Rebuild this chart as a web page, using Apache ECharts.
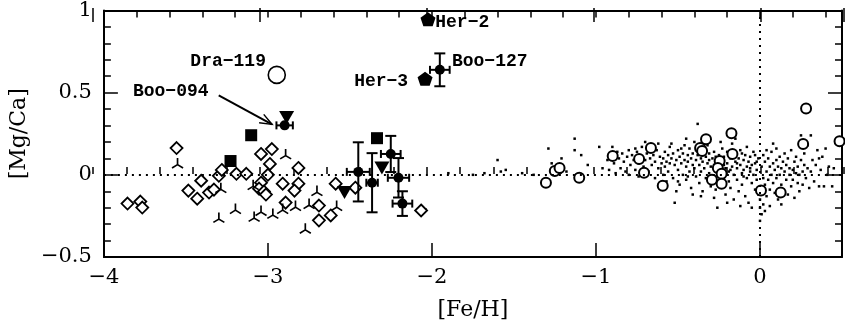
<!DOCTYPE html>
<html>
<head>
<meta charset="utf-8">
<script src="https://cdn.jsdelivr.net/npm/echarts@6/dist/echarts.min.js"></script>
<style>
  html, body { margin: 0; padding: 0; background: #fff; }
  #chart { width: 845px; height: 327px; }
</style>
</head>
<body>
<div id="chart"></div>
<script>
// [Fe/H], [Mg/Ca] values
const fieldStars = [
  [-2.04,-0.21],[-1.9,0.01],[-1.75,0.0],[-1.68,0.01],[-1.6,0.09],[-1.58,0.02],[-1.55,0.03],[-1.45,0.01],
  [-1.38,0.0],[-1.29,0.16],[-1.27,0.07],[-1.21,0.1],[-1.18,0.02],[-1.13,0.22],[-1.13,0.15],[-1.09,0.12],
  [-1.05,0.06],[-0.98,0.17],[-0.96,0.04],[-0.92,0.03],[-0.9,0.17],
  [-0.93,0.09],[-0.91,0.12],[-0.89,0.07],[-0.87,0.14],[-0.86,0.1],[-0.85,0.04],[-0.84,0.13],[-0.83,0.08],
  [-0.81,0.11],[-0.8,0.15],[-0.79,0.06],[-0.78,0.12],[-0.77,0.09],[-0.76,0.03],[-0.75,0.14],[-0.74,0.07],
  [-0.73,0.11],[-0.72,0.17],[-0.71,0.05],[-0.7,0.09],[-0.69,0.13],[-0.68,0.02],[-0.67,0.1],[-0.66,0.06],
  [-0.65,0.12],[-0.64,0.08],[-0.63,0.15],[-0.62,0.04],[-0.61,0.11],[-0.6,0.07],[-0.88,0.01],[-0.82,0.02],
  [-0.74,-0.01],[-0.7,0.2],[-0.66,0.18],[-0.64,-0.02],[-0.62,0.19],[-0.76,0.16],[-0.9,0.1],[-0.8,0.0],
  [-0.59,0.1],[-0.58,0.05],[-0.58,0.14],[-0.57,0.08],[-0.56,0.12],[-0.56,0.02],[-0.55,0.17],[-0.55,0.07],
  [-0.54,0.1],[-0.53,-0.02],[-0.53,0.13],[-0.52,0.06],[-0.52,-0.17],[-0.51,0.09],[-0.5,0.15],[-0.5,0.03],
  [-0.49,0.11],[-0.49,-0.06],[-0.48,0.07],[-0.47,0.13],[-0.47,0.0],[-0.46,0.09],[-0.46,0.18],[-0.45,0.05],
  [-0.45,-0.03],[-0.44,0.12],[-0.44,0.08],[-0.43,0.02],[-0.43,0.16],[-0.42,0.1],[-0.42,-0.08],[-0.41,0.06],
  [-0.41,0.13],[-0.4,0.04],[-0.4,0.2],[-0.39,0.09],[-0.39,-0.01],[-0.38,0.31],[-0.38,0.12],[-0.37,0.06],
  [-0.37,-0.05],[-0.36,0.1],[-0.36,0.02],[-0.35,0.08],[-0.35,-0.1],[-0.34,0.15],[-0.34,0.04],[-0.33,0.11],
  [-0.33,-0.02],[-0.32,0.07],[-0.32,0.18],[-0.31,0.01],[-0.31,0.13],[-0.3,0.05],[-0.3,-0.07],[-0.57,-0.04],
  [-0.54,0.19],[-0.51,-0.1],[-0.48,0.16],[-0.45,0.22],[-0.41,-0.12],[-0.38,0.17],[-0.36,-0.13],[-0.33,0.21],
  [-0.59,0.0],[-0.5,-0.04],[-0.44,-0.01],[-0.39,0.15],[-0.35,0.12],[-0.31,0.09],
  [-0.29,0.1],[-0.29,-0.04],[-0.28,0.06],[-0.28,0.14],[-0.27,0.02],[-0.27,-0.09],[-0.26,0.09],[-0.26,-0.2],
  [-0.25,0.12],[-0.25,0.0],[-0.24,0.05],[-0.24,-0.06],[-0.23,0.16],[-0.23,0.08],[-0.22,-0.02],[-0.22,0.11],
  [-0.21,0.04],[-0.21,-0.12],[-0.2,0.07],[-0.2,0.14],[-0.19,-0.04],[-0.19,0.02],[-0.18,0.1],[-0.18,-0.08],
  [-0.17,0.05],[-0.17,0.19],[-0.16,0.0],[-0.16,-0.15],[-0.15,0.08],[-0.15,0.12],[-0.14,-0.03],[-0.14,0.04],
  [-0.13,0.1],[-0.13,-0.1],[-0.12,0.06],[-0.12,0.15],[-0.11,0.01],[-0.11,-0.06],[-0.1,0.09],[-0.1,0.03],
  [-0.09,-0.13],[-0.09,0.12],[-0.08,0.05],[-0.08,-0.02],[-0.07,0.08],[-0.07,-0.17],[-0.06,0.02],[-0.06,0.11],
  [-0.05,-0.05],[-0.05,0.06],[-0.04,0.0],[-0.04,0.14],[-0.03,0.07],[-0.03,-0.09],[-0.02,0.03],[-0.02,-0.03],
  [-0.01,0.1],[-0.01,-0.12],[-0.28,-0.14],[-0.24,0.2],[-0.2,-0.17],[-0.15,0.22],[-0.12,-0.19],[-0.08,0.17],
  [-0.05,-0.2],[-0.26,0.03],[-0.22,0.06],[-0.18,0.03],[-0.14,0.07],[-0.1,-0.01],[-0.06,0.04],[-0.02,0.08],
  [-0.27,0.11],[-0.19,0.13],[-0.11,0.13],[-0.03,0.12],
  [0.0,-0.15],[0.0,-0.2],[0.01,-0.24],[0.0,-0.28],[0.01,-0.1],[0.01,0.05],[0.02,-0.02],[0.02,0.12],
  [0.02,-0.18],[0.03,0.08],[0.03,-0.06],[0.04,0.02],[0.04,-0.13],[0.05,0.1],[0.05,-0.03],[0.06,0.05],
  [0.06,-0.09],[0.07,0.0],[0.07,0.14],[0.08,-0.05],[0.08,0.07],[0.09,0.03],[0.09,-0.11],[0.1,0.09],
  [0.1,-0.02],[0.11,0.05],[0.11,-0.15],[0.12,0.0],[0.12,0.11],[0.13,-0.06],[0.13,0.04],[0.14,0.08],
  [0.14,-0.09],[0.15,0.02],[0.15,0.13],[0.16,-0.03],[0.16,0.06],[0.17,-0.12],[0.17,0.1],[0.18,0.0],
  [0.18,0.04],[0.19,-0.07],[0.19,0.15],[0.2,0.03],[0.2,-0.03],[0.21,0.08],[0.21,-0.14],[0.22,0.01],
  [0.22,0.11],[0.23,-0.05],[0.23,0.05],[0.24,0.0],[0.24,-0.1],[0.25,0.09],[0.25,0.24],[0.26,0.02],
  [0.26,-0.06],[0.27,0.06],[0.27,0.13],[0.28,-0.02],[0.29,0.04],[0.29,0.18],[0.3,-0.08],[0.03,-0.22],
  [0.06,-0.19],[0.1,0.16],[0.13,-0.18],[0.08,0.19],[0.04,0.15],[0.12,-0.13],
  [0.31,0.02],[0.32,0.09],[0.33,-0.04],[0.34,0.06],[0.35,0.15],[0.36,-0.07],[0.37,0.03],[0.38,0.11],
  [0.39,-0.07],[0.4,0.16],[0.41,0.0],[0.42,0.05],[0.44,-0.07],[0.45,0.04],[0.31,0.24],[0.36,0.1]
];

const openCircles = [
  [-1.305,-0.048],[-1.251,0.024],[-1.222,0.042],[-1.102,-0.018],[-0.898,0.114],[-0.737,0.096],
  [-0.707,0.012],[-0.665,0.163],[-0.593,-0.066],[-0.365,0.163],[-0.353,0.145],[-0.329,0.217],
  [-0.293,-0.03],[-0.246,0.084],[-0.257,0.042],[-0.234,0.006],[-0.234,-0.054],[-0.174,0.253],
  [-0.168,0.127],[0.006,-0.096],[0.126,-0.108],[0.263,0.187],[0.281,0.404],[0.485,0.205]
];

const diamonds = [
  [-3.557,0.163],[-3.856,-0.175],[-3.778,-0.163],[-3.766,-0.199],[-3.485,-0.096],[-3.431,-0.145],
  [-3.407,-0.036],[-3.359,-0.108],[-3.329,-0.09],[-3.299,-0.006],[-3.281,0.03],[-3.192,0.006],
  [-3.132,0.006],[-3.042,0.127],[-2.976,0.157],[-2.988,0.066],[-3.0,0.0],[-3.042,-0.048],
  [-3.054,-0.084],[-3.024,-0.102],[-3.012,-0.12],[-2.91,-0.054],[-2.892,-0.169],[-2.814,0.042],
  [-2.814,-0.054],[-2.838,-0.096],[-2.689,-0.187],[-2.689,-0.277],[-2.617,-0.247],[-2.587,-0.054],
  [-2.467,-0.078],[-2.066,-0.217]
];

const triStars = [
  [-3.551,0.072],[-3.299,-0.259],[-3.198,-0.205],[-3.084,-0.253],[-3.042,-0.217],[-2.97,-0.235],
  [-2.91,-0.205],[-3.09,-0.06],[-3.287,-0.078],[-2.892,0.127],[-2.701,-0.096],[-2.749,-0.175],
  [-2.832,-0.187],[-2.581,-0.187],[-2.772,-0.325]
];

const squares = [[-3.102,0.241],[-3.228,0.084],[-2.335,0.223]];
const downTriangles = [[-2.886,0.349],[-2.305,0.042],[-2.533,-0.108]];

// filled circles with error bars: [Fe/H], [Mg/Ca], err[Fe/H], err[Mg/Ca]
const errFeH = [-2.898, -2.449, -2.365, -2.251, -2.204, -2.18, -1.952];
const errMgCa = [0.301, 0.018, -0.048, 0.127, -0.018, -0.175, 0.639];
const errX = [0.05, 0.07, 0.035, 0.06, 0.065, 0.06, 0.06];
const errY = [0, 0.18, 0.18, 0.11, 0.12, 0.075, 0.1];

const herStars = [[-2.024, 0.946], [-2.042, 0.584]];
const draStar = [[-2.946, 0.608]];

const labelNames = ['Her−2', 'Boo−127', 'Her−3', 'Dra−119', 'Boo−094'];

// ---- layout (not data) ----
const labelAnchors = [
  { at: [-1.98, 0.93], align: 'left' },
  { at: [-1.878, 0.69], align: 'left' },
  { at: [-2.145, 0.566], align: 'right' },
  { at: [-3.012, 0.69], align: 'right' },
  { at: [-3.362, 0.506], align: 'right' }
];
const arrowFrom = [-3.3, 0.484];
const arrowTo = [-2.975, 0.307];

const AXIS_FONT = 'DejaVu Serif';
const LABEL_FONT = 'Liberation Mono';
const pentagon = 'path://M0,-1 L0.951,-0.309 L0.588,0.809 L-0.588,0.809 L-0.951,-0.309 Z';
const triPath = 'path://M0,-1 L0,0 L-0.866,0.5 M0,0 L0.866,0.5';

const gridBox = { left: 93, right: 1, top: 8, bottom: 70 };
const fmtX = v => (Math.abs(v - Math.round(v)) < 1e-9 ? String(Math.round(v)) : '').replace('-', '\u2212');
const fmtY = v => String(v).replace('-', '\u2212');

function xAx(grid, pos, interval, len, extra) {
  return Object.assign({
    type: 'value', gridIndex: grid, position: pos, min: -4, max: 0.5, interval: interval,
    axisLine: { show: true, onZero: false, lineStyle: { color: '#000', width: 2 } },
    axisTick: { show: true, inside: true, length: len, lineStyle: { color: '#000', width: 1.5 } },
    axisLabel: { show: false },
    splitLine: { show: false }
  }, extra || {});
}

function yAx(grid, pos, extra) {
  return Object.assign({
    type: 'value', gridIndex: grid, position: pos, min: -0.5, max: 1, interval: 0.5,
    axisLine: { show: true, onZero: false, lineStyle: { color: '#000', width: 2 } },
    axisTick: { show: true, inside: true, length: 14, lineStyle: { color: '#000', width: 1.5 } },
    minorTick: { show: true, splitNumber: 5, length: 7, lineStyle: { color: '#000', width: 1.5 } },
    axisLabel: { show: false },
    splitLine: { show: false }
  }, extra || {});
}

function renderErr(params, api) {
  const x = api.value(0), y = api.value(1), ex = api.value(2), ey = api.value(3);
  const c = api.coord([x, y]);
  const st = { stroke: '#000', lineWidth: 2 };
  const kids = [];
  const line = (x1, y1, x2, y2) => kids.push({ type: 'line', shape: { x1, y1, x2, y2 }, style: st });
  if (ey > 0) {
    const t = api.coord([x, y + ey])[1], b = api.coord([x, y - ey])[1];
    line(c[0], t, c[0], b);
    line(c[0] - 5.5, t, c[0] + 5.5, t);
    line(c[0] - 5.5, b, c[0] + 5.5, b);
  }
  if (ex > 0) {
    const l = api.coord([x - ex, y])[0], r = api.coord([x + ex, y])[0];
    line(l, c[1], r, c[1]);
    line(l, c[1] - 4, l, c[1] + 4);
    line(r, c[1] - 4, r, c[1] + 4);
  }
  return { type: 'group', children: kids };
}

function renderNotes(params, api) {
  const i = params.dataIndex;
  const a = labelAnchors[i];
  const p = api.coord(a.at);
  const kids = [{
    type: 'text', x: p[0], y: p[1],
    style: {
      text: labelNames[i], fill: '#000', font: 'bold 18px "' + LABEL_FONT + '"',
      align: a.align, verticalAlign: 'middle'
    }
  }];
  if (i === 4) {
    const s = api.coord(arrowFrom), e = api.coord(arrowTo);
    const ang = Math.atan2(e[1] - s[1], e[0] - s[0]);
    const h = 13, w = 0.38;
    kids.push({ type: 'line', shape: { x1: s[0], y1: s[1], x2: e[0], y2: e[1] }, style: { stroke: '#000', lineWidth: 2 } });
    kids.push({
      type: 'polyline',
      shape: { points: [
        [e[0] - h * Math.cos(ang - w), e[1] - h * Math.sin(ang - w)],
        [e[0], e[1]],
        [e[0] - h * Math.cos(ang + w), e[1] - h * Math.sin(ang + w)]
      ] },
      style: { stroke: '#000', lineWidth: 1.5, fill: null }
    });
  }
  return { type: 'group', children: kids };
}

const chart = echarts.init(document.getElementById('chart'));
const errData = errFeH.map((x, i) => [x, errMgCa[i], errX[i], errY[i]]);

const option = {
  animation: false,
  backgroundColor: '#fff',
  grid: [Object.assign({}, gridBox), Object.assign({}, gridBox)],
  xAxis: [
    xAx(0, 'bottom', 1, 14, {
      axisLabel: { show: true, formatter: fmtX, color: '#000', fontSize: 21, fontFamily: AXIS_FONT, margin: 10 },
      name: '[Fe/H]', nameLocation: 'middle', nameGap: 42,
      nameTextStyle: { color: '#000', fontSize: 22, fontFamily: AXIS_FONT }
    }),
    xAx(0, 'top', 0.2, 7),
    xAx(1, 'bottom', 0.2, 7, { axisLine: { show: false } }),
    xAx(1, 'top', 1, 14, { axisLine: { show: false } })
  ],
  yAxis: [
    yAx(0, 'left', {
      axisLabel: { show: true, formatter: fmtY, color: '#000', fontSize: 21, fontFamily: AXIS_FONT, margin: 12 },
      name: '[Mg/Ca]', nameLocation: 'middle', nameGap: 64, nameRotate: 90,
      nameTextStyle: { color: '#000', fontSize: 22, fontFamily: AXIS_FONT }
    }),
    yAx(0, 'right'),
    yAx(1, 'left', { show: false })
  ],
  series: [
    {
      type: 'scatter', name: 'field', data: fieldStars, symbol: 'rect', symbolSize: 2.5,
      itemStyle: { color: '#000', opacity: 1 }, z: 2,
      markLine: {
        silent: true, symbol: ['none', 'none'], label: { show: false },
        lineStyle: { color: '#000', width: 2, type: [2, 5] },
        data: [{ yAxis: 0 }, { xAxis: 0 }]
      }
    },
    {
      type: 'scatter', name: 'open', data: openCircles, symbol: 'circle', symbolSize: 10,
      itemStyle: { color: '#fff', borderColor: '#000', borderWidth: 2, opacity: 1 }, z: 3
    },
    {
      type: 'scatter', name: 'diamond', data: diamonds, symbol: 'diamond', symbolSize: 12,
      itemStyle: { color: '#fff', borderColor: '#000', borderWidth: 1.8, opacity: 1 }, z: 3
    },
    {
      type: 'scatter', name: 'tri', data: triStars, symbol: triPath, symbolSize: [11, 10],
      itemStyle: { color: 'rgba(0,0,0,0)', borderColor: '#000', borderWidth: 1.6, opacity: 1 }, z: 3
    },
    {
      type: 'scatter', name: 'square', data: squares, symbol: 'rect', symbolSize: 12,
      itemStyle: { color: '#000', opacity: 1 }, z: 4
    },
    {
      type: 'scatter', name: 'tridown', data: downTriangles, symbol: 'triangle', symbolRotate: 180,
      symbolSize: [15, 13], itemStyle: { color: '#000', opacity: 1 }, z: 4
    },
    {
      type: 'custom', name: 'errors', data: errData, renderItem: renderErr, z: 4, silent: true
    },
    {
      type: 'scatter', name: 'dots', data: errData.map(d => [d[0], d[1]]), symbol: 'circle', symbolSize: 10,
      itemStyle: { color: '#000', opacity: 1 }, z: 5
    },
    {
      type: 'scatter', name: 'her', data: herStars, symbol: pentagon, symbolSize: [15, 14],
      itemStyle: { color: '#000', opacity: 1 }, z: 5
    },
    {
      type: 'scatter', name: 'dra', data: draStar, symbol: 'circle', symbolSize: 17,
      itemStyle: { color: '#fff', borderColor: '#000', borderWidth: 1.6, opacity: 1 }, z: 5
    },
    {
      type: 'custom', name: 'notes', data: labelNames.map((n, i) => [i]), renderItem: renderNotes,
      z: 6, silent: true, clip: false
    }
  ]
};

chart.setOption(option);
window.addEventListener('resize', () => chart.resize());
</script>
</body>
</html>
